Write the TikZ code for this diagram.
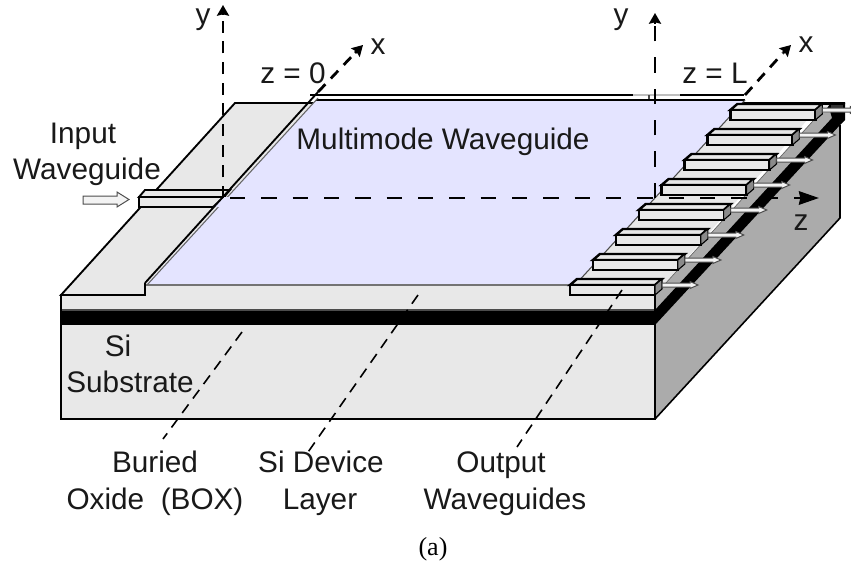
\documentclass[tikz,border=0pt]{standalone}
\usepackage{fontspec}
\setmainfont{Liberation Sans}
\newfontfamily\capfont{Liberation Serif}
\usetikzlibrary{arrows.meta}
\definecolor{slab}{HTML}{E8E8E8}
\definecolor{lav}{HTML}{E4E4FF}
\definecolor{sidegray}{HTML}{ABABAB}
\definecolor{endgray}{HTML}{8A8A8A}
\tikzset{
  px/.style={x=0.75pt,y=-0.75pt},
  face/.style={draw=black,line width=1.4pt,line join=miter,fill=slab},
  guideface/.style={draw=black,line width=1.8pt,line join=miter,fill=slab},
  axisline/.style={draw=black,line width=2.1pt,dash pattern=on 11.5pt off 12pt},
  tipsmall/.style={-{Stealth[length=8pt,width=9pt,inset=1pt]},line width=2.1pt},
  tipbig/.style={-{Stealth[length=15pt,width=10pt,inset=1pt]},line width=2.1pt},
  leader/.style={draw=black,line width=1.2pt,dash pattern=on 8pt off 5.5pt},
  lbl/.style={font=\fontsize{22.3pt}{26pt}\selectfont,inner sep=0pt,text=black!90,anchor=base},
  blockarrow/.style={draw=black!70,line width=0.75pt,fill=slab!50!white,line join=miter},
}
\begin{document}
\begin{tikzpicture}[px]
\useasboundingbox (0,0) rectangle (851,564);
% side faces
\fill[sidegray] (655,295) -- (820,113) -- (840,113) -- (840,218) -- (655,419) -- cycle;
\fill[black] (655,310) -- (832,118) -- (830,111) -- (822,111) -- (822,103) -- (845,103) -- (845,120) -- (840,125) -- (655,325) -- cycle;
\draw[line width=1.2pt] (840,125) -- (840,218) -- (655,419);
% front
\draw[draw=black,line width=1.2pt,fill=slab] (61,295) -- (655,295) -- (655,419) -- (61,419) -- cycle;
\fill[black] (61,310) rectangle (655,325);
% slab top
\fill[slab] (61,295) -- (235,103) -- (822,103) -- (655,295) -- cycle;
\draw[line width=1.4pt] (655,295) -- (61,295) -- (235,103) -- (845,103);
\draw[line width=0.5pt,black!60] (655,295) -- (822,111);
% small end details at the back corner
\fill[slab] (822,105) -- (829,105) -- (825,111) -- (820,111) -- cycle;
\fill[black!80] (831,105) rectangle (843,110);
% back edges of multimode section
\fill[white] (312,95) rectangle (745,100);
\draw[line width=1.4pt] (310,95) -- (633,95);
\draw[line width=1pt,black!25] (633,95) -- (680,95);
\draw[line width=1.4pt] (680,95) -- (744,95);
\draw[line width=1pt,black!70] (649,95) -- (649,100);
% notches of the slab
\fill[slab] (61,295) -- (145,295) -- (145,285) -- (570,285) -- (570,295) -- (655,295) -- (655,310) -- (61,310) -- cycle;
% multimode region
\fill[lav] (146,285) -- (316,100) -- (745,100) -- (575,285) -- cycle;
\draw[line width=1.4pt] (316,100) -- (745,100);
\draw[line width=1.1pt,black!55] (146,285) -- (575,285);
\draw[line width=1.4pt] (61,295) -- (145,295) -- (145,283);
\draw[line width=0.8pt,black!60] (147,285) -- (318,98);
\draw[line width=0.8pt,black!70] (575,285) -- (745,100);
\draw[line width=1pt,black!70] (61,310) -- (655,310);
\draw[line width=1pt] (61,295) -- (61,419);
\draw[line width=1pt] (655,295) -- (655,419);
% output waveguides
\foreach \k in {7,6,...,0}{
  \begin{scope}[shift={({22.9*\k},{-25*\k})}]
    \draw[guideface] (570,285) -- (577,279) -- (662,279) -- (655,285) -- cycle;
    \draw[guideface] (570,285) rectangle (655,295);
    \draw[draw=black,line width=0.8pt,fill=endgray] (655,285) -- (662,279) -- (662,289) -- (655,295) -- cycle;
    \draw[blockarrow] (662,283) -- (690,283) -- (690,281.5) -- (698,285) -- (690,288.5) -- (690,287) -- (662,287) -- cycle;
  \end{scope}
}
% input waveguide
\draw[face] (139,197) -- (145,190) -- (230,190) -- (224,197) -- cycle;
\draw[face] (139,197) -- (224,197) -- (213,207) -- (139,207) -- cycle;
\fill[lav] (224,197) -- (233,197) -- (224,207) -- (213,207) -- cycle;
\draw[line width=1.4pt] (145,283) -- (318,92);
\draw[blockarrow] (83,196) -- (117,196) -- (117,192) -- (129,199.5) -- (117,207) -- (117,204) -- (83,204) -- cycle;
% axes
\coordinate (origL) at (223,198);
\coordinate (startZ) at (230,198);
\coordinate (tipYL) at (223,5);
\coordinate (tipZ) at (819,198);
\coordinate (origR) at (655,198);
\coordinate (tipYR) at (655,13);
\coordinate (edgeL) at (318,92);
\coordinate (tipXL) at (363,45);
\coordinate (edgeR) at (745,95);
\coordinate (tipXR) at (791,45);
\draw[axisline,dash pattern=on 9pt off 6.5pt] (origL) -- (223,14);
\draw[tipsmall] (223,14) -- (tipYL);
\draw[axisline] (startZ) -- (800,198);
\draw[tipbig] (798,198) -- (tipZ);
\draw[axisline] (origR) -- (655,24);
\draw[tipsmall] (655,24) -- (tipYR);
\draw[axisline,dash pattern=on 8pt off 6pt] (edgeL) -- (355,53);
\draw[tipsmall] (355,53) -- (tipXL);
\draw[axisline,dash pattern=on 8pt off 6pt] (edgeR) -- (783,53);
\draw[tipsmall] (783,53) -- (tipXR);
% leaders
\coordinate (boxA) at (242,332); \coordinate (boxB) at (163,439);
\coordinate (devA) at (418,295); \coordinate (devB) at (306,455);
\coordinate (outA) at (622,290); \coordinate (outB) at (517,447);
\draw[leader] (boxA) -- (boxB);
\draw[leader] (devA) -- (devB);
\draw[leader] (outA) -- (outB);
% labels
\node[lbl] (ylabL) at (203,25) {y};
\node[lbl] (xlabL) at (378,55) {x};
\node[lbl] (z0) at (293,83) {z = 0};
\node[lbl] (ylabR) at (621,25) {y};
\node[lbl] (xlabR) at (806,52) {x};
\node[lbl] (zL) at (715,83) {z = L};
\node[lbl] (zlab) at (801,230) {z};
\node[lbl] (mm) at (443,149) {Multimode Waveguide};
\node[lbl] (in1) at (83,143) {Input};
\node[lbl] (in2) at (87,179) {Waveguide};
\node[lbl] (si1) at (118,356) {Si};
\node[lbl] (si2) at (130,392) {Substrate};
\node[lbl] (b1) at (155,472) {Buried};
\node[lbl] (b2) at (155,509) {Oxide\ \ (BOX)};
\node[lbl] (d1) at (321,472) {Si Device};
\node[lbl] (d2) at (320,509) {Layer};
\node[lbl] (o1) at (501,472) {Output};
\node[lbl] (o2) at (505,509) {Waveguides};
\node[anchor=base,inner sep=0pt,font=\capfont\fontsize{19.5pt}{22pt}\selectfont] (cap) at (433,555) {(a)};
\end{tikzpicture}
\end{document}
